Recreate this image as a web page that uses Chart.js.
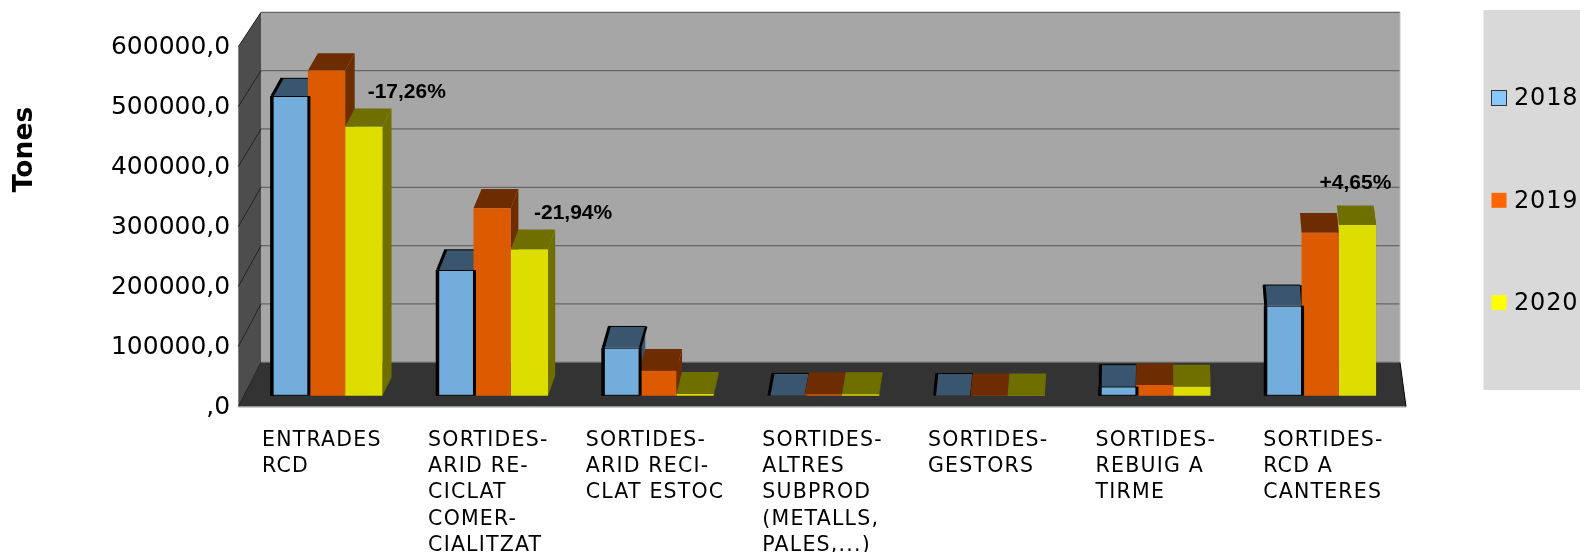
<!DOCTYPE html>
<html lang="ca">
<head>
    <meta charset="UTF-8">
    <title>Tones RCD</title>
    <script src="https://cdn.jsdelivr.net/npm/chart.js"></script>
    <style>
        html, body { margin: 0; padding: 0; background: #fff; overflow: hidden; }
        canvas { display: block; }
    </style>
</head>
<body>
    <canvas id="chart" width="1580" height="552"></canvas>

    <script>
        // dades
        const categories = [
            ["ENTRADES", "RCD"],
            ["SORTIDES-", "ARID RE-", "CICLAT", "COMER-", "CIALITZAT"],
            ["SORTIDES-", "ARID RECI-", "CLAT ESTOC"],
            ["SORTIDES-", "ALTRES", "SUBPROD", "(METALLS,", "PALES,...)"],
            ["SORTIDES-", "GESTORS"],
            ["SORTIDES-", "REBUIG A", "TIRME"],
            ["SORTIDES-", "RCD A", "CANTERES"]
        ];
        const years = ["2018", "2019", "2020"];
        const values2018 = [508000, 213000, 81300, 500, 300, 15500, 152500];
        const values2019 = [551000, 317600, 42400, 2500, 200, 18000, 276300];
        const values2020 = [456000, 248000, 3000, 2500, 200, 15300, 289300];
        const variations = ["-17,26%", "-21,94%", null, null, null, null, "+4,65%"];
        const yTitle = "Tones";

        // colors
        const frontColors = ["#72addc", "#dc5a00", "#dedd00"];
        const depthColors = ["#3a566e", "#6e2d00", "#6f6f00"];
        const legendColors = ["#8ac6ff", "#ff6600", "#ffff00"];

        // geometria de la caixa 3D
        const wall = { frontLeft: 238.3, backLeft: 261, backRight: 1400, frontRight: 1406, backTop: 12.3, backBottom: 362.3 };
        const labelShift = [-64.5, -64, -72, -61, -61, -59, -57];
        const variationShift = [[43, -34.5], [43.7, -36.6], null, null, null, null, [-2, -42]];

        function depthX(x) {
            return (23 - 29 * (x - 238) / 1168) * 0.47;
        }
        function depthY(h) {
            return 22 - 0.0145 * h;
        }

        function poly(ctx, pts, fill) {
            ctx.beginPath();
            pts.forEach((p, i) => i ? ctx.lineTo(p[0], p[1]) : ctx.moveTo(p[0], p[1]));
            ctx.closePath();
            ctx.fillStyle = fill;
            ctx.fill();
        }
        function seg(ctx, x1, y1, x2, y2, color, width) {
            ctx.beginPath();
            ctx.moveTo(x1, y1);
            ctx.lineTo(x2, y2);
            ctx.strokeStyle = color;
            ctx.lineWidth = width;
            ctx.stroke();
        }

        function drawBox(chart) {
            const ctx = chart.ctx;
            const y = chart.scales.y;
            const bottom = y.bottom, top = y.top;
            // paret del fons, paret esquerra, terra
            poly(ctx, [[wall.backLeft, wall.backTop], [wall.backRight, wall.backTop], [wall.backRight, wall.backBottom], [wall.backLeft, wall.backBottom]], "#a6a6a6");
            poly(ctx, [[wall.frontLeft, bottom], [wall.frontLeft, top], [wall.backLeft, wall.backTop], [wall.backLeft, wall.backBottom]], "#4d4d4d");
            poly(ctx, [[wall.frontLeft, bottom], [wall.backLeft, wall.backBottom], [wall.backRight, wall.backBottom], [wall.frontRight, bottom]], "#333333");
            y.ticks.forEach(t => {
                const py = y.getPixelForValue(t.value);
                const by = wall.backBottom - (bottom - py) / (bottom - top) * (wall.backBottom - wall.backTop);
                seg(ctx, wall.backLeft, by, wall.backRight, by, "#666666", 1.3);
                seg(ctx, wall.frontLeft, py, wall.backLeft, by, "#222222", 1);
            });
            seg(ctx, wall.backRight, wall.backBottom, wall.frontRight, bottom, "#000000", 1);
            seg(ctx, wall.backRight, wall.backTop, wall.backRight, wall.backBottom, "#bdbdbd", 1);
            seg(ctx, wall.frontLeft, bottom + 0.5, wall.frontRight, bottom + 0.5, "#9a9a9a", 1);
        }

        function drawDepth(chart) {
            const ctx = chart.ctx;
            categories.forEach((c, i) => {
                [0, 1, 2].forEach(d => {
                    const bar = chart.getDatasetMeta(d).data[i];
                    const l = bar.x - bar.width / 2, r = bar.x + bar.width / 2;
                    const h = bar.base - bar.y;
                    const dy = depthY(h), dl = depthX(l), dr = depthX(r);
                    // lateral
                    poly(ctx, [[r, bar.y], [r + dr, bar.y - dy], [r + dr, bar.base - dy], [r, bar.base]], depthColors[d]);
                    // tapa
                    poly(ctx, [[l, bar.y], [l + dl, bar.y - dy], [r + dr, bar.y - dy], [r, bar.y]], depthColors[d]);
                    if (d === 0) {
                        seg(ctx, l + 1.5, bar.y, l + dl + 1, bar.y - dy, "#000000", 3);
                        seg(ctx, l + dl, bar.y - dy, r + dr, bar.y - dy, "#000000", 1);
                        seg(ctx, r + 1, bar.y, r + dr + 1, bar.y - dy, "#000000", 2.5);
                    }
                });
            });
        }

        // vores verticals de les barres 2018, per sobre de la barra veina
        function drawBlueEdge(chart) {
            const ctx = chart.ctx;
            chart.getDatasetMeta(0).data.forEach(bar => {
                const l = bar.x - bar.width / 2, r = bar.x + bar.width / 2;
                ctx.fillStyle = "#000000";
                ctx.fillRect(l - 0.5, bar.y, 3.5, bar.base - bar.y);
                ctx.fillRect(r - 0.5, bar.y, 3, bar.base - bar.y);
            });
        }

        function drawVariations(chart) {
            const ctx = chart.ctx;
            ctx.font = "bold 21px 'Liberation Sans'";
            ctx.fillStyle = "#000000";
            ctx.textAlign = "center";
            ctx.textBaseline = "middle";
            variations.forEach((txt, i) => {
                if (!txt) return;
                const bar = chart.getDatasetMeta(2).data[i];
                ctx.fillText(txt, bar.x + variationShift[i][0], bar.y + variationShift[i][1]);
            });
        }

        function drawLegend(chart) {
            const ctx = chart.ctx;
            ctx.fillStyle = "#d9d9d9";
            ctx.fillRect(1483.5, 10, 97, 380);
            ctx.font = "24px 'DejaVu Sans'";
            ctx.letterSpacing = "0.8px";
            ctx.textAlign = "left";
            ctx.textBaseline = "middle";
            chart.data.datasets.forEach((ds, i) => {
                const cy = 98 + i * 102.3;
                ctx.fillStyle = legendColors[i];
                ctx.fillRect(1491.5, cy - 7.5, 15, 15);
                if (i === 0) {
                    ctx.strokeStyle = "#333333";
                    ctx.lineWidth = 1;
                    ctx.strokeRect(1491.5, cy - 7.5, 15, 15);
                }
                ctx.fillStyle = "#000000";
                ctx.fillText(ds.label, 1514, cy + 1);
            });
            ctx.letterSpacing = "0px";
        }

        function drawYTitle(chart) {
            const ctx = chart.ctx;
            ctx.save();
            ctx.translate(25.5, 149.5);
            ctx.rotate(-Math.PI / 2);
            ctx.font = "bold 26.5px 'DejaVu Sans'";
            ctx.fillStyle = "#000000";
            ctx.textAlign = "center";
            ctx.textBaseline = "middle";
            ctx.fillText(yTitle, 0, 0);
            ctx.restore();
        }

        // etiquetes amb l'espaiat ample de l'original
        function spaceLabels(scale, spacing) {
            const draw = scale.drawLabels;
            scale.drawLabels = function (area) {
                scale.ctx.letterSpacing = spacing;
                draw.call(scale, area);
                scale.ctx.letterSpacing = "0px";
            };
        }

        const fake3d = {
            id: "fake3d",
            afterLayout(chart) {
                // les etiquetes surten alineades a l'esquerra, cadascuna amb el seu desplacament
                const x = chart.scales.x;
                x.getLabelItems(chart.chartArea).forEach((item, i) => {
                    item.options.translation[0] += labelShift[i];
                });
                chart.scales.y.getLabelItems(chart.chartArea).forEach(item => {
                    item.options.translation[1] += 1;
                });
                spaceLabels(x, "1.2px");
            },
            beforeDatasetsDraw(chart) {
                drawBox(chart);
                drawDepth(chart);
            },
            afterDatasetsDraw(chart) {
                drawBlueEdge(chart);
                drawVariations(chart);
                drawLegend(chart);
                drawYTitle(chart);
            }
        };

        const seriesValues = [values2018, values2019, values2020];

        new Chart(document.getElementById("chart"), {
            type: "bar",
            data: {
                labels: categories,
                datasets: years.map((year, d) => ({
                    label: year,
                    data: seriesValues[d],
                    yAxisID: "yBars",
                    backgroundColor: frontColors[d],
                    borderColor: d === 0 ? "#000000" : depthColors[d],
                    borderWidth: d === 0 ? { left: 0, right: 0, top: 1, bottom: 1 } : 0,
                    borderSkipped: false
                }))
            },
            options: {
                responsive: false,
                animation: false,
                layout: { padding: { top: 46.7, right: 177, left: 0, bottom: 0 } },
                plugins: {
                    legend: { display: false },
                    tooltip: { enabled: false }
                },
                scales: {
                    x: {
                        grid: { display: false, drawTicks: false },
                        border: { display: false },
                        ticks: {
                            autoSkip: false,
                            maxRotation: 0,
                            minRotation: 0,
                            align: "start",
                            padding: 21,
                            color: "#000000",
                            font: { family: "'DejaVu Sans'", size: 20.5, lineHeight: 1.28 }
                        },
                        afterFit(scale) { scale.height = 145.5; }
                    },
                    y: {
                        min: 0,
                        max: 600000,
                        grid: { display: false, drawTicks: false },
                        border: { display: false },
                        ticks: {
                            stepSize: 100000,
                            padding: 13.5,
                            color: "#000000",
                            font: { family: "'DejaVu Sans'", size: 25 },
                            callback: v => (v ? v : "") + ",0"
                        },
                        afterFit(scale) { scale.width = 243.7; }
                    },
                    yBars: {
                        display: false,
                        min: -18305,
                        max: 591525
                    }
                },
                datasets: {
                    bar: { categoryPercentage: 0.675, barPercentage: 1 }
                }
            },
            plugins: [fake3d]
        });
    </script>
</body>
</html>
